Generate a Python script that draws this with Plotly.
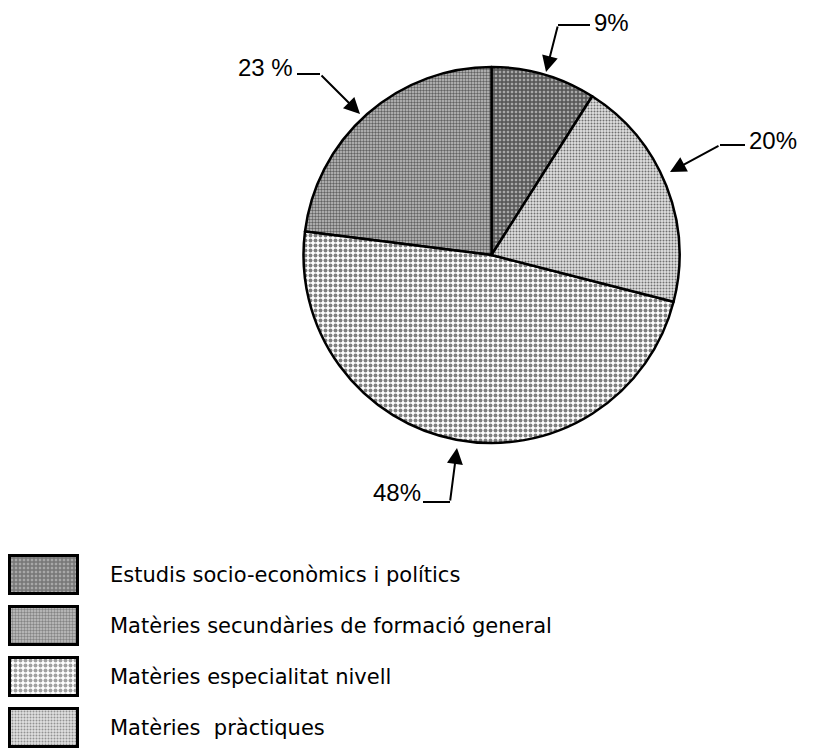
import plotly.graph_objects as go

# the page body adds an 8px margin, so the figure is drawn 8px in from the window edge
OFF = 8
W, H = 822 - OFF, 750 - OFF

# data
labels = ["Estudis socio-econòmics i polítics",
          "Matèries secundàries de formació general",
          "Matèries especialitat nivell",
          "Matèries  pràctiques"]
values = [9, 23, 48, 20]
pct_text = ["9%", "23 %", "48%", "20%"]

# hatch styles per slice (same order as labels)
shapes_pat = ["+", ".", ".", "."]
pat_size = [4, 3, 5, 3]
pat_solid = [0.6, 0.5, 0.5, 0.35]
pat_bg = ["#a8a8a8", "#c4c4c4", "#ffffff", "#e0e0e0"]


def fx(x):
    return (x - OFF) / W


def fy(y):
    return 1 - (y - OFF) / H


font = "Liberation Sans, Arial, sans-serif"
fig = go.Figure()

fig.add_trace(go.Pie(
    values=values, labels=labels, sort=False,
    direction="counterclockwise", rotation=0,
    textinfo="none", hoverinfo="label+percent", showlegend=False,
    domain=dict(x=[fx(303), fx(680)], y=[fy(443), fy(67)]),
    marker=dict(colors=pat_bg, line=dict(color="black", width=2.5),
                pattern=dict(shape=shapes_pat, size=pat_size, solidity=pat_solid,
                             fgcolor="black", fillmode="overlay")),
))

# legend swatches as a small bar chart
fig.add_trace(go.Bar(
    x=[1] * len(labels), y=list(range(len(labels))), orientation="h",
    width=0.75, xaxis="x2", yaxis="y2", showlegend=False, hoverinfo="skip",
    marker=dict(color=pat_bg, line=dict(color="black", width=3),
                pattern=dict(shape=shapes_pat, size=pat_size, solidity=pat_solid,
                             fgcolor="black", fillmode="overlay")),
))

annotations = []
for i, lab in enumerate(labels):
    annotations.append(dict(x=fx(108), xref="paper", y=i, yref="y2", text=lab,
                            showarrow=False, xanchor="left", yanchor="middle",
                            font=dict(size=21, color="black", family="DejaVu Sans, sans-serif")))

# percentage labels with leader lines: text pos, horizontal segment, arrow tip
leaders = [
    dict(text=(592, 23, "left"), line=[(590, 25), (558, 25)], tip=(546, 72)),
    dict(text=(295, 67, "right"), line=[(297, 74), (320, 74)], tip=(360, 114)),
    dict(text=(423, 492, "right"), line=[(423, 502), (450, 502)], tip=(457, 448)),
    dict(text=(747, 140, "left"), line=[(745, 145), (720, 145)], tip=(670, 172)),
]
shapes = []
for k, ld in enumerate(leaders):
    tx, ty, anc = ld["text"]
    annotations.append(dict(x=fx(tx), y=fy(ty), xref="paper", yref="paper", text=pct_text[k],
                            showarrow=False, xanchor=anc, yanchor="middle",
                            font=dict(size=24, color="black", family=font)))
    (x0, y0), (x1, y1) = ld["line"]
    shapes.append(dict(type="line", xref="paper", yref="paper",
                       x0=fx(x0), y0=fy(y0), x1=fx(x1), y1=fy(y1),
                       line=dict(color="black", width=2)))
    tx2, ty2 = ld["tip"]
    annotations.append(dict(x=fx(tx2), y=fy(ty2), xref="paper", yref="paper", text="",
                            showarrow=True, ax=x1 - tx2, ay=y1 - ty2,
                            arrowhead=2, arrowsize=1.6, arrowwidth=2, arrowcolor="black",
                            standoff=0, startstandoff=0))

fig.update_layout(
    width=W, height=H,
    margin=dict(l=0, r=0, t=0, b=0),
    paper_bgcolor="white", plot_bgcolor="white",
    xaxis2=dict(domain=[0, fx(80)], range=[-0.03, 1.03], visible=False, fixedrange=True),
    yaxis2=dict(domain=[0, fy(548)], range=[3.43, -0.53], visible=False,
                fixedrange=True, anchor="x2"),
    annotations=annotations, shapes=shapes,
    bargap=0,
)

fig.write_html("out.html")
